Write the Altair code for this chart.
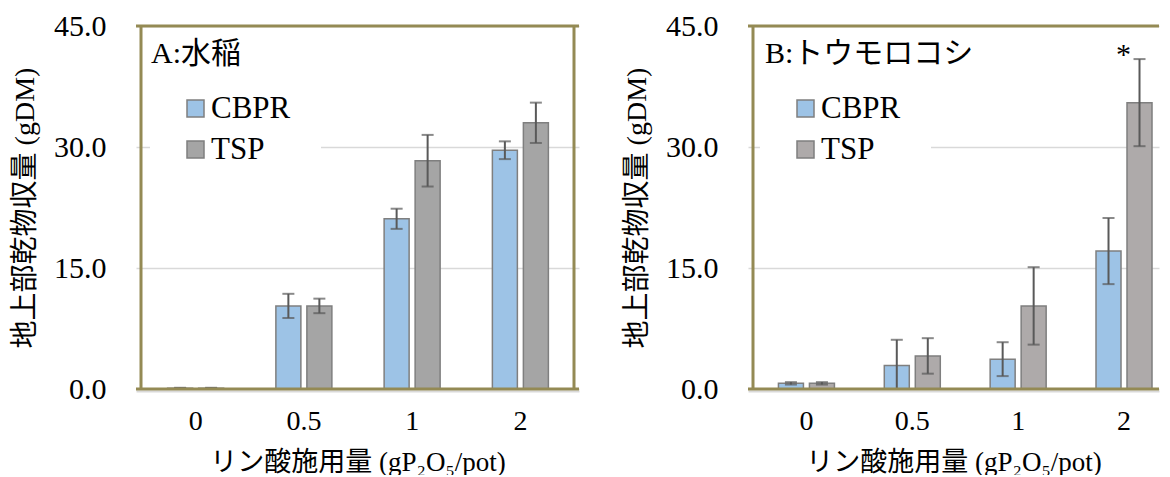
import json
import altair as alt
import pandas as pd

# ---------------- data ----------------
doses = ["0", "0.5", "1", "2"]
series = ["CBPR", "TSP"]

rice_cbpr = [0.1, 10.3, 21.1, 29.6]
rice_cbpr_sd = [0.05, 1.5, 1.25, 1.1]
rice_tsp = [0.1, 10.3, 28.3, 33.0]
rice_tsp_sd = [0.05, 0.9, 3.2, 2.5]

corn_cbpr = [0.7, 2.9, 3.7, 17.1]
corn_cbpr_sd = [0.15, 3.2, 2.1, 4.1]
corn_tsp = [0.7, 4.1, 10.3, 35.5]
corn_tsp_sd = [0.15, 2.2, 4.8, 5.4]
corn_sig = ["", "", "", "*"]

y_ticks = [0, 15, 30, 45]

SERIF = "Liberation Serif, Noto Sans CJK JP"
OLIVE = "#948A54"
GRID = "#D9D9D9"
ERR = "#595959"
BAR_STROKE = "#7F7F7F"


def build_df(cbpr, cbpr_sd, tsp, tsp_sd, sig):
    rows = []
    for i, d in enumerate(doses):
        for s, m, sd in (("CBPR", cbpr[i], cbpr_sd[i]), ("TSP", tsp[i], tsp_sd[i])):
            rows.append(dict(idx=i, dose=d, series=s, mean=m, lo=max(m - sd, 0), hi=m + sd,
                             sig=(sig[i] if (sig and s == "TSP") else "")))
    return pd.DataFrame(rows)


def panel(title, title_dx, df, colors, xmax, width, legend_x, right_border):
    xscale = alt.Scale(domain=[-0.5, xmax], nice=False, zero=False)
    yscale = alt.Scale(domain=[0, 45], nice=False)
    label_expr = json.dumps(doses) + "[datum.value]"
    x_axis = alt.Axis(values=list(range(len(doses))), labelExpr=label_expr,
                      title="リン酸施用量 (gP₂O₅/pot)", grid=False, ticks=False,
                      domainColor=GRID, domainWidth=2, offset=2,
                      labelFont=SERIF, labelFontSize=28, labelColor="black", labelPadding=16,
                      titleFont=SERIF, titleFontSize=27, titleFontWeight="normal",
                      titleColor="black", titlePadding=14)
    y_axis = alt.Axis(values=y_ticks, format=".1f", title="地上部乾物収量 (gDM)",
                      grid=True, gridColor=GRID, gridWidth=1.5, domain=False, ticks=False,
                      labelFont=SERIF, labelFontSize=30, labelColor="black", labelPadding=30,
                      titleFont=SERIF, titleFontSize=28, titleFontWeight="normal",
                      titleColor="black", titlePadding=14)

    def X(**kw):
        return alt.X(scale=xscale, axis=x_axis, **kw)

    def Y(**kw):
        return alt.Y(scale=yscale, axis=y_axis, **kw)

    color = alt.Color("series:N", scale=alt.Scale(domain=series, range=colors),
                      legend=alt.Legend(orient="none", legendX=legend_x, legendY=37,
                                        direction="vertical", title=None,
                                        fillColor="white", padding=30,
                                        labelFont=SERIF, labelFontSize=31, labelColor="black",
                                        labelOffset=0, symbolType="square", symbolSize=289,
                                        symbolStrokeColor=BAR_STROKE, symbolStrokeWidth=1.5,
                                        rowPadding=9))
    base = alt.Chart(df)
    layers = []
    for s, off in zip(series, [-15, 16]):
        sub = base.transform_filter(alt.datum.series == s)
        layers.append(sub.mark_bar(orient="vertical", width=25, xOffset=off,
                                   stroke=BAR_STROKE, strokeWidth=1.5)
                      .encode(x=X(field="idx", type="quantitative"),
                              y=Y(field="mean", type="quantitative"), color=color))
        layers.append(sub.mark_rule(xOffset=off, color=ERR, strokeWidth=2)
                      .encode(x=X(field="idx", type="quantitative"),
                              y=Y(field="lo", type="quantitative"), y2="hi:Q"))
        for fld in ("lo", "hi"):
            layers.append(sub.mark_tick(orient="horizontal", size=12, thickness=2,
                                        xOffset=off, color=ERR)
                          .encode(x=X(field="idx", type="quantitative"),
                                  y=Y(field=fld, type="quantitative")))
    layers.append(base.transform_filter(alt.datum.series == "TSP")
                  .mark_text(font=SERIF, fontSize=30, color="black", dy=5, dx=0,
                             baseline="alphabetic")
                  .encode(x=X(field="idx", type="quantitative"),
                          y=Y(field="hi", type="quantitative"), text="sig:N"))
    edge = alt.Chart(pd.DataFrame({"edge": [0]}))
    rule = dict(color=OLIVE, strokeWidth=3)
    layers.append(edge.mark_rule(**rule).encode(y=Y(datum=45)))
    layers.append(edge.mark_rule(**rule).encode(y=Y(datum=0)))
    layers.append(edge.mark_rule(**rule).encode(x=X(datum=-0.5)))
    if right_border:
        layers.append(edge.mark_rule(**rule).encode(x=X(datum=xmax)))
    return alt.layer(*layers).properties(
        width=width, height=363,
        title=alt.TitleParams(text=title, anchor="start", frame="group", dx=title_dx,
                              offset=-82, baseline="alphabetic", font=SERIF,
                              fontSize=30, fontWeight="normal", color="black"))


dfA = build_df(rice_cbpr, rice_cbpr_sd, rice_tsp, rice_tsp_sd, None)
dfB = build_df(corn_cbpr, corn_cbpr_sd, corn_tsp, corn_tsp_sd, corn_sig)

pA = panel("A:水稲", 15, dfA, ["#9DC3E6", "#A5A5A5"], 3.5, 443, 14, True)
pB = panel("B:トウモロコシ", 17, dfB, ["#9DC3E6", "#AEAAAA"], -0.5 + 411 / 108.5, 411, 12, False)

chart = (alt.hconcat(pA, pB, spacing=42)
         .resolve_scale(color="independent", x="independent", y="independent")
         .resolve_legend(color="independent")
         .properties(padding={"left": 3, "top": 3, "right": 0, "bottom": 0},
                     background="white")
         .configure_view(strokeWidth=0))

chart.save("out.html", embed_options={"renderer": "svg", "actions": False})
